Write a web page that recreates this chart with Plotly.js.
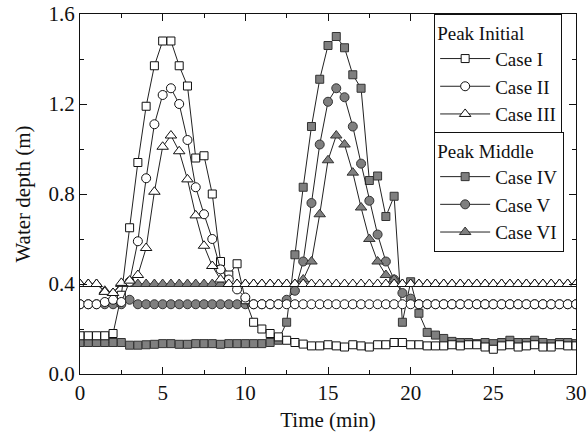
<!DOCTYPE html>
<html>
<head>
<meta charset="utf-8">
<script src="https://cdn.plot.ly/plotly-3.0.1.min.js"></script>
<style>html,body{margin:0;padding:0;background:#fff;}#chart{width:588px;height:446px;}</style>
</head>
<body>
<div id="chart"></div>
<script>
// Time axis (min), 0.5 min steps
var time = [0,0.5,1,1.5,2,2.5,3,3.5,4,4.5,5,5.5,6,6.5,7,7.5,8,8.5,9,9.5,10,10.5,11,11.5,12,12.5,13,13.5,14,14.5,15,15.5,16,16.5,17,17.5,18,18.5,19,19.5,20,20.5,21,21.5,22,22.5,23,23.5,24,24.5,25,25.5,26,26.5,27,27.5,28,28.5,29,29.5,30];

// Peak Initial
var caseI = [0.17,0.17,0.17,0.17,0.18,0.35,0.65,0.94,1.19,1.37,1.48,1.48,1.37,1.28,0.96,0.97,0.80,0.50,0.44,0.49,0.33,0.23,0.20,0.18,0.165,0.15,0.14,0.133,0.125,0.125,0.13,0.125,0.12,0.13,0.125,0.12,0.13,0.13,0.14,0.14,0.13,0.13,0.125,0.125,0.125,0.13,0.125,0.13,0.13,0.12,0.11,0.125,0.13,0.12,0.125,0.13,0.12,0.12,0.13,0.125,0.125];
var caseII = [0.31,0.31,0.31,0.32,0.33,0.32,0.41,0.59,0.87,1.11,1.24,1.27,1.20,1.04,0.83,0.71,0.60,0.465,0.42,0.376,0.34,0.31,0.31,0.31,0.31,0.31,0.31,0.31,0.31,0.31,0.31,0.31,0.31,0.31,0.31,0.31,0.31,0.31,0.31,0.31,0.31,0.31,0.31,0.31,0.31,0.31,0.31,0.31,0.31,0.31,0.31,0.31,0.31,0.31,0.31,0.31,0.31,0.31,0.31,0.31,0.31];
var caseIII = [0.40,0.40,0.40,0.365,0.36,0.405,0.415,0.44,0.56,0.81,1.01,1.06,0.99,0.865,0.705,0.57,0.48,0.42,0.40,0.40,0.40,0.40,0.40,0.40,0.40,0.40,0.40,0.40,0.40,0.40,0.40,0.40,0.40,0.40,0.40,0.40,0.40,0.40,0.40,0.40,0.40,0.40,0.40,0.40,0.40,0.40,0.40,0.40,0.40,0.40,0.40,0.40,0.40,0.40,0.40,0.40,0.40,0.40,0.40,0.40,0.40];

// Peak Middle
var caseIV = [0.14,0.14,0.14,0.14,0.14,0.14,0.128,0.128,0.13,0.132,0.135,0.135,0.132,0.132,0.135,0.135,0.135,0.132,0.135,0.135,0.135,0.135,0.135,0.14,0.15,0.23,0.53,0.83,1.10,1.31,1.46,1.50,1.45,1.33,1.27,0.86,0.88,0.70,0.79,0.23,0.41,0.27,0.185,0.173,0.158,0.145,0.14,0.14,0.135,0.14,0.135,0.14,0.15,0.14,0.14,0.15,0.14,0.135,0.14,0.14,0.135];
var caseV = [0.31,0.31,0.31,0.31,0.31,0.31,0.33,0.31,0.31,0.31,0.31,0.31,0.31,0.31,0.31,0.31,0.31,0.31,0.31,0.31,0.31,0.31,0.31,0.31,0.31,0.33,0.37,0.50,0.76,1.02,1.21,1.27,1.23,1.10,0.935,0.77,0.62,0.50,0.42,0.36,0.335,0.31,0.31,0.31,0.31,0.31,0.31,0.31,0.31,0.31,0.31,0.31,0.31,0.31,0.31,0.31,0.31,0.31,0.31,0.31,0.31];
var caseVI = [0.40,0.40,0.40,0.37,0.36,0.40,0.40,0.40,0.40,0.40,0.40,0.40,0.40,0.40,0.40,0.40,0.40,0.40,0.40,0.40,0.40,0.40,0.40,0.40,0.40,0.40,0.40,0.42,0.50,0.71,0.95,1.06,1.02,0.895,0.74,0.60,0.50,0.44,0.42,0.40,0.40,0.40,0.40,0.40,0.40,0.40,0.40,0.40,0.40,0.40,0.40,0.40,0.40,0.40,0.40,0.40,0.40,0.40,0.40,0.40,0.40];

var FONT = '"Liberation Serif", serif';
var lineStyle = {color: '#222', width: 1};
function openMarker(sym, size) {
  return {symbol: sym, size: size, color: '#ffffff', line: {color: '#111', width: 1}};
}
function grayMarker(sym, size) {
  return {symbol: sym, size: size, color: '#7f7f7f', line: {color: '#333', width: 1}};
}

var traces = [
  {x: time, y: caseIV, name: 'Case IV', mode: 'lines+markers', line: lineStyle, marker: grayMarker('square', 8), legend: 'legend2'},
  {x: time, y: caseV, name: 'Case V', mode: 'lines+markers', line: lineStyle, marker: grayMarker('circle', 9), legend: 'legend2'},
  {x: time, y: caseVI, name: 'Case VI', mode: 'lines+markers', line: lineStyle, marker: grayMarker('triangle-up', 10), legend: 'legend2'},
  {x: time, y: caseI, name: 'Case I', mode: 'lines+markers', line: lineStyle, marker: openMarker('square', 8), legend: 'legend'},
  {x: time, y: caseII, name: 'Case II', mode: 'lines+markers', line: lineStyle, marker: openMarker('circle', 9), legend: 'legend'},
  {x: time, y: caseIII, name: 'Case III', mode: 'lines+markers', line: lineStyle, marker: openMarker('triangle-up', 10), legend: 'legend'}
];

var tickFont = {family: FONT, size: 21, color: '#111'};
var legFont = {family: FONT, size: 19, color: '#111'};
var layout = {
  width: 588, height: 446,
  margin: {l: 80, r: 12, t: 14, b: 72},
  paper_bgcolor: '#fff', plot_bgcolor: '#fff',
  font: {family: FONT, size: 21, color: '#111'},
  showlegend: true,
  xaxis: {
    range: [0, 30], dtick: 5, tick0: 0,
    ticks: 'inside', ticklen: 7, tickwidth: 1, tickcolor: '#111',
    minor: {ticks: 'inside', ticklen: 4, dtick: 2.5, tickcolor: '#111'},
    showline: true, linecolor: '#111', linewidth: 1, mirror: 'ticks',
    showgrid: false, zeroline: false,
    tickfont: tickFont,
    title: {text: 'Time (min)', font: {family: FONT, size: 21, color: '#111'}, standoff: 8}
  },
  yaxis: {
    range: [0, 1.6], dtick: 0.4, tick0: 0, tickformat: '.1f',
    ticks: 'inside', ticklen: 7, tickwidth: 1, tickcolor: '#111',
    minor: {ticks: 'inside', ticklen: 4, dtick: 0.2, tickcolor: '#111'},
    showline: true, linecolor: '#111', linewidth: 1, mirror: 'ticks',
    showgrid: false, zeroline: false,
    tickfont: tickFont,
    title: {text: 'Water depth (m)', font: {family: FONT, size: 21, color: '#111'}, standoff: 12}
  },
  legend: {
    x: 0.714, y: 1, xanchor: 'left', yanchor: 'top',
    bgcolor: '#fff', bordercolor: '#111', borderwidth: 1,
    font: legFont,
    title: {text: 'Peak Initial', font: legFont},
    tracegroupgap: 0, itemwidth: 50
  },
  legend2: {
    x: 0.714, y: 0.672, xanchor: 'left', yanchor: 'top',
    bgcolor: '#fff', bordercolor: '#111', borderwidth: 1,
    font: legFont,
    title: {text: 'Peak Middle', font: legFont},
    tracegroupgap: 0, itemwidth: 50
  }
};

Plotly.newPlot('chart', traces, layout, {displayModeBar: false, staticPlot: true});
</script>
</body>
</html>
